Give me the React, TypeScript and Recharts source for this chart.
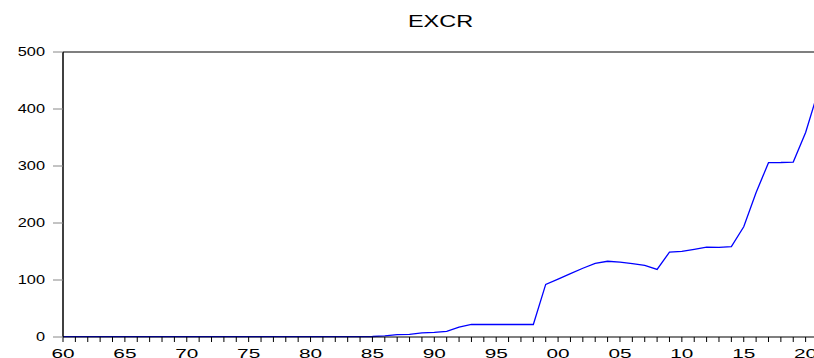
import { LineChart, Line, XAxis, YAxis, ReferenceLine } from 'recharts'

const years = [
  1960, 1961, 1962, 1963, 1964, 1965, 1966, 1967, 1968, 1969,
  1970, 1971, 1972, 1973, 1974, 1975, 1976, 1977, 1978, 1979,
  1980, 1981, 1982, 1983, 1984, 1985, 1986, 1987, 1988, 1989,
  1990, 1991, 1992, 1993, 1994, 1995, 1996, 1997, 1998, 1999,
  2000, 2001, 2002, 2003, 2004, 2005, 2006, 2007, 2008, 2009,
  2010, 2011, 2012, 2013, 2014, 2015, 2016, 2017, 2018, 2019,
  2020, 2021,
]

// EXCR
const excr = [
  0.71, 0.71, 0.71, 0.71, 0.71, 0.71, 0.71, 0.71, 0.71, 0.71,
  0.71, 0.71, 0.71, 0.66, 0.63, 0.62, 0.65, 0.64, 0.6, 0.6,
  0.55, 0.61, 0.67, 0.72, 0.77, 0.89, 2.0, 4.0, 4.5, 7.4,
  8.0, 9.9, 17.5, 22.0, 21.9, 21.9, 21.9, 21.9, 21.9, 92.3,
  101.7, 111.2, 120.6, 129.2, 132.9, 131.3, 128.7, 125.8, 118.5, 148.9,
  150.3, 153.9, 157.5, 157.3, 158.6, 193.3, 253.5, 305.8, 306.1, 306.9,
  358.8, 430,
]

const yTicks = [0, 100, 200, 300, 400, 500]

const data = years.map((year, i) => ({ year, excr: excr[i] }))

const FONT = "Arial, 'Liberation Sans', sans-serif"

function YearTick({ x, y, payload }: any) {
  const yr = payload.value as number
  if (yr % 5 !== 0) return <g />
  const label = String(yr % 100).padStart(2, '0')
  return (
    <text
      transform={`translate(${x},${y + 13.5}) scale(1.6,1)`}
      textAnchor="middle"
      fontSize={13}
      fontFamily={FONT}
      fill="#000"
    >
      {label}
    </text>
  )
}

function ValueTick({ x, y, payload }: any) {
  return (
    <text
      transform={`translate(${x},${y}) scale(1.36,1)`}
      textAnchor="end"
      dy="0.36em"
      fontSize={12}
      fontFamily={FONT}
      fill="#000"
    >
      {payload.value}
    </text>
  )
}

export default function App() {
  return (
    <div
      style={{
        position: 'absolute', left: 0, top: 0, width: 814, height: 358,
        overflow: 'hidden', background: '#fff',
      }}
    >
      <svg width={814} height={40} style={{ position: 'absolute', left: 0, top: 0 }}>
        <text
          transform="translate(440.5,27.3) scale(1.38,1)"
          textAnchor="middle"
          fontSize={17}
          fontFamily={FONT}
          fill="#000"
        >
          EXCR
        </text>
      </svg>
      <div style={{ position: 'absolute', left: 0, top: 0 }}>
        <LineChart
          width={830}
          height={358}
          data={data}
          margin={{ top: 52, right: 12, left: 0, bottom: 0 }}
        >
          <XAxis
            dataKey="year"
            type="number"
            domain={[1960, 2021]}
            ticks={years}
            interval={0}
            tickSize={5}
            tickMargin={2}
            height={21}
            axisLine={{ stroke: '#000', strokeWidth: 1.2 }}
            tickLine={{ stroke: '#000' }}
            tick={<YearTick />}
          />
          <YAxis
            domain={[0, 500]}
            ticks={yTicks}
            width={63}
            tickSize={10}
            tickMargin={8}
            axisLine={{ stroke: '#000', strokeWidth: 1.5 }}
            tickLine={{ stroke: '#888' }}
            tick={<ValueTick />}
          />
          <ReferenceLine y={500} stroke="#555" strokeWidth={1.5} />
          <Line
            type="linear"
            dataKey="excr"
            stroke="#0000ff"
            strokeWidth={1.3}
            dot={false}
            isAnimationActive={false}
          />
        </LineChart>
      </div>
    </div>
  )
}
